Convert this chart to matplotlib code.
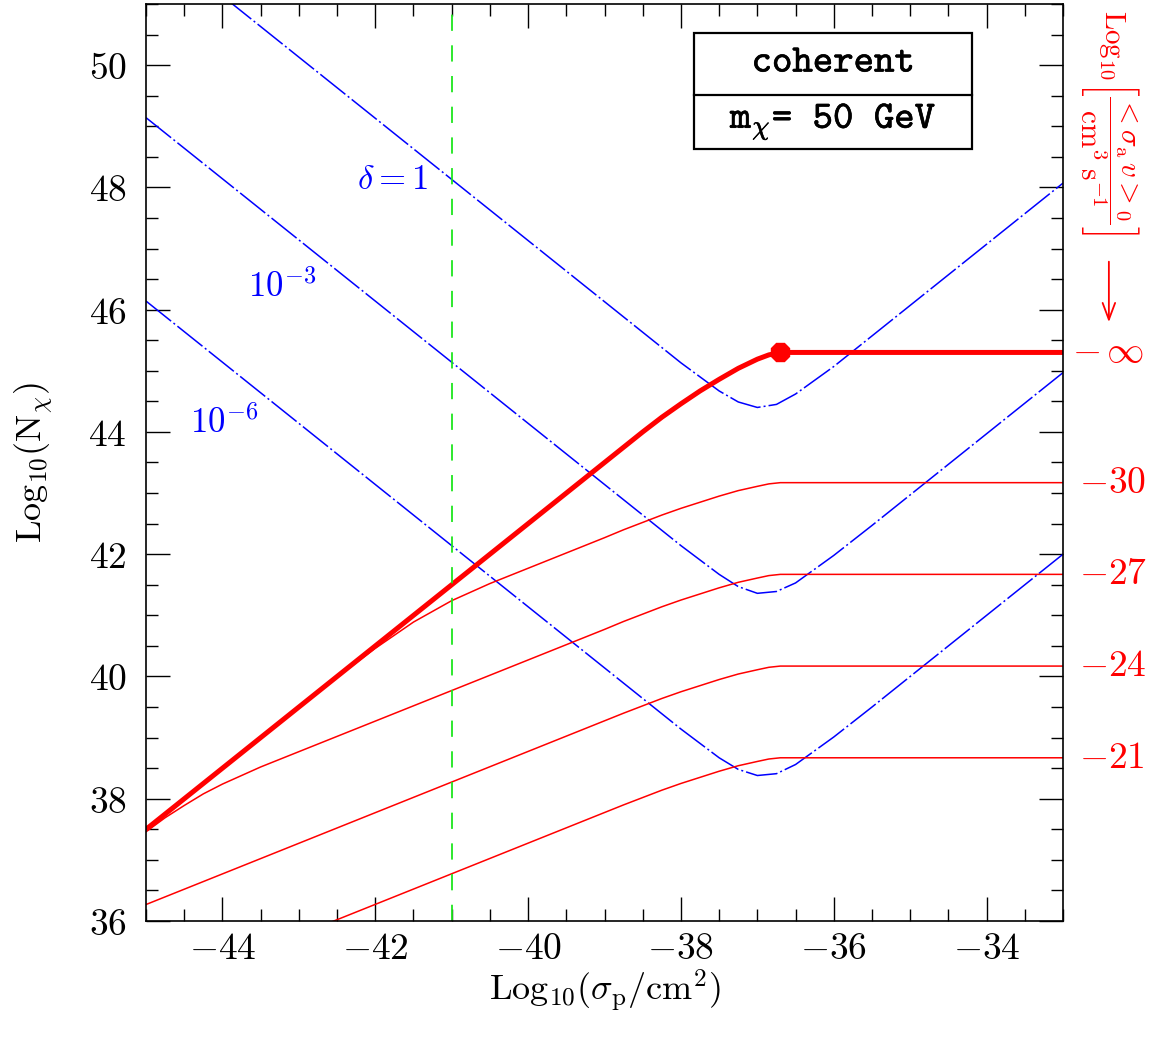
import matplotlib
matplotlib.use("Agg")
import matplotlib.pyplot as plt
from matplotlib.patches import Rectangle
from matplotlib.ticker import MultipleLocator, FuncFormatter
import matplotlib.transforms as mtransforms
import matplotlib.patheffects as pe

plt.rcParams['mathtext.fontset'] = 'cm'

# blue dash-dot curves, delta = 1, 1e-3, 1e-6
x_blue = [-45, -39, -38.5, -38, -37.5, -37.25, -37, -36.75, -36.5, -36, -35.5, -35, -33]
n_d1 = [52.13, 46.13, 45.63, 45.13, 44.67, 44.49, 44.40, 44.45, 44.62, 45.07, 45.57, 46.07, 48.07]
n_d3 = [49.14, 43.14, 42.64, 42.14, 41.67, 41.47, 41.36, 41.39, 41.53, 41.98, 42.47, 42.97, 44.97]
n_d6 = [46.14, 40.14, 39.64, 39.14, 38.67, 38.48, 38.38, 38.41, 38.56, 39.01, 39.50, 40.00, 42.00]

# red curves, <sigma_a v>_0 = 0 (thick), 1e-30, 1e-27, 1e-24, 1e-21
x_red = [-45, -44.75, -44.5, -44.25, -44, -43.5, -43, -42.5, -42, -41.5, -41, -40.5, -40,
         -39, -38.75, -38.5, -38.25, -38, -37.75, -37.5, -37.25, -37, -36.85, -36.7, -33]
n_inf = [37.50, 37.75, 38.00, 38.25, 38.50, 39.00, 39.50, 40.00, 40.50, 41.00, 41.50, 42.00, 42.50,
         43.50, 43.75, 44.00, 44.24, 44.46, 44.67, 44.86, 45.04, 45.19, 45.26, 45.30, 45.30]
n_30 = [37.50, 37.75, 38.00, 38.25, 38.50, 39.00, 39.50, 39.99, 40.46, 40.89, 41.24, 41.52, 41.77,
        42.27, 42.40, 42.52, 42.64, 42.75, 42.85, 42.95, 43.04, 43.11, 43.15, 43.17, 43.17]
n_27 = [37.46, 37.69, 37.89, 38.08, 38.24, 38.52, 38.77, 39.02, 39.27, 39.52, 39.77, 40.02, 40.27,
        40.77, 40.90, 41.02, 41.14, 41.25, 41.35, 41.45, 41.54, 41.61, 41.65, 41.67, 41.67]
x_lin = [-45, -38.75, -38.5, -38.25, -38, -37.75, -37.5, -37.25, -37, -36.85, -36.7, -33]
n_24 = [36.27, 39.40, 39.52, 39.64, 39.75, 39.85, 39.95, 40.04, 40.11, 40.15, 40.17, 40.17]
n_21 = [34.77, 37.90, 38.02, 38.14, 38.25, 38.35, 38.45, 38.54, 38.61, 38.65, 38.67, 38.67]

sat_point = (-36.7, 45.30)
sigma_line = -41

right_labels = [r'$-\,\infty$', r'$-30$', r'$-27$', r'$-24$', r'$-21$']
right_levels = [45.30, 43.17, 41.67, 40.17, 38.67]
right_x = [1.010, 1.017, 1.017, 1.017, 1.017]

blue_labels = [r'$\delta=1$', r'$10^{-3}$', r'$10^{-6}$']
blue_label_pos = [(-42.24, 47.98), (-43.67, 46.2), (-44.42, 43.99)]

fig = plt.figure(figsize=(11.6, 10.4), dpi=100)
ax = fig.add_axes([0.1259, 0.1144, 0.7905, 0.8818])

dashdot = (0, (21, 2, 1.3, 2))
for n in (n_d1, n_d3, n_d6):
    ax.plot(x_blue, n, color='blue', lw=1.1, ls=dashdot)

ax.plot(x_red, n_inf, color='red', lw=3.6, solid_capstyle='butt')
ax.plot(x_red, n_30, color='red', lw=1.1)
ax.plot(x_red, n_27, color='red', lw=1.1)
ax.plot(x_lin, n_24, color='red', lw=1.1)
ax.plot(x_lin, n_21, color='red', lw=1.1)
ax.plot(*sat_point, marker='8', ms=14, color='red', mec='red')

ax.axvline(sigma_line, color='#1ee61e', lw=1.3, ls=(0, (9, 8)))

ax.set_xlim(-45, -33)
ax.set_ylim(36, 51)

ax.xaxis.set_major_locator(MultipleLocator(2))
ax.xaxis.set_minor_locator(MultipleLocator(0.5))
ax.yaxis.set_major_locator(MultipleLocator(2))
ax.yaxis.set_minor_locator(MultipleLocator(0.5))
fmt = FuncFormatter(lambda v, p: r'$%d$' % round(v))
ax.xaxis.set_major_formatter(fmt)
ax.yaxis.set_major_formatter(fmt)
ax.tick_params(which='both', direction='in', top=True, right=True, width=1, labelsize=27)
ax.tick_params(which='major', length=17)
ax.tick_params(which='minor', length=8.6)
ax.tick_params(axis='x', pad=7)
ax.tick_params(axis='y', pad=14)
for s in ax.spines.values():
    s.set_linewidth(1.2)

ax.set_xlabel(r'$\mathrm{Log}_{10}(\sigma_{\rm p}/\mathrm{cm}^2)$', fontsize=26, labelpad=1)
ax.set_ylabel(r'$\mathrm{Log}_{10}(\mathrm{N}_\chi)$', fontsize=26, labelpad=24)

for lab, (lx, ly) in zip(blue_labels, blue_label_pos):
    ax.text(lx, ly, lab, color='blue', fontsize=25, ha='left', va='baseline')

trans = mtransforms.blended_transform_factory(ax.transAxes, ax.transData)
for lab, lv, rx in zip(right_labels, right_levels, right_x):
    ax.text(rx, lv, lab, color='red', fontsize=27, ha='left', va='center',
            transform=trans, clip_on=False)

# rotated right-hand label and arrow
ax.text(1.050, 0.9935,
        r'$\mathrm{Log}_{10}\left[\dfrac{<\sigma_{\rm a}\,v>_0}{\mathrm{cm}^3\;\mathrm{s}^{-1}}\right]$',
        color='red', fontsize=21, rotation=-90, ha='center', va='top',
        transform=ax.transAxes, clip_on=False)
ax.annotate('', xy=(1.050, 0.650), xytext=(1.050, 0.722), xycoords='axes fraction',
            arrowprops=dict(arrowstyle='->,head_length=1.2,head_width=0.45', color='red', lw=1.3),
            annotation_clip=False)

# legend box
bx0, bx1 = 0.598, 0.901
by0, by1, bym = 0.842, 0.968, 0.901
ax.add_patch(Rectangle((bx0, by0), bx1 - bx0, by1 - by0, transform=ax.transAxes,
                       fill=True, fc='white', ec='black', lw=1.6, zorder=5))
ax.plot([bx0, bx1], [bym, bym], color='black', lw=1.6, transform=ax.transAxes, zorder=6)
semibold = [pe.withStroke(linewidth=0.45, foreground='black')]
ax.text((bx0 + bx1) / 2, (by1 + bym) / 2, 'coherent', family='cmtt10',
        fontsize=28, ha='center', va='center', transform=ax.transAxes, zorder=7,
        path_effects=semibold)
ax.text((bx0 + bx1) / 2, (bym + by0) / 2, r'm$_\chi$= 50 GeV', family='cmtt10',
        fontsize=28, ha='center', va='center', transform=ax.transAxes, zorder=7,
        path_effects=semibold)

fig.savefig('out.png', dpi=100)
